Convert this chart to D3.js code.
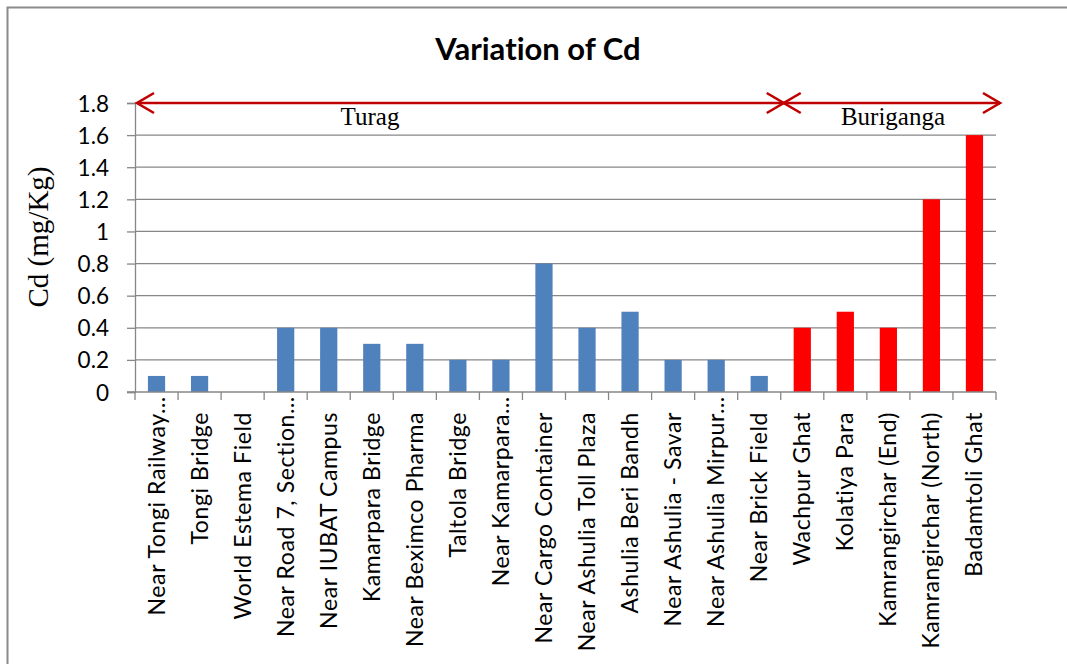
<!DOCTYPE html>
<html>
<head>
<meta charset="utf-8">
<script src="https://cdn.jsdelivr.net/npm/d3@7/dist/d3.min.js"></script>
<style>
  html, body { margin: 0; padding: 0; background: #ffffff; }
  svg { display: block; }
  text { font-variant-ligatures: none; }
</style>
</head>
<body>
<svg id="chart" width="1067" height="664"></svg>
<script>
// Sampling stations along the two rivers
const sites = [
  "Near Tongi Railway…", "Tongi Bridge", "World Estema Field", "Near Road 7, Section…",
  "Near IUBAT Campus", "Kamarpara Bridge", "Near Beximco Pharma", "Taltola Bridge",
  "Near Kamarpara…", "Near Cargo Container", "Near Ashulia Toll Plaza", "Ashulia Beri Bandh",
  "Near Ashulia - Savar", "Near Ashulia Mirpur…", "Near Brick Field", "Wachpur Ghat",
  "Kolatiya Para", "Kamrangirchar (End)", "Kamrangirchar (North)", "Badamtoli Ghat"
];
// Cd concentration (mg/Kg) per station
const cdValues = [0.1, 0.1, 0, 0.4, 0.4, 0.3, 0.3, 0.2, 0.2, 0.8, 0.4, 0.5, 0.2, 0.2, 0.1, 0.4, 0.5, 0.4, 1.2, 1.6];
// River each station belongs to
const riverOf = ["Turag","Turag","Turag","Turag","Turag","Turag","Turag","Turag","Turag","Turag",
                 "Turag","Turag","Turag","Turag","Turag","Buriganga","Buriganga","Buriganga","Buriganga","Buriganga"];
const rivers = ["Turag", "Buriganga"];
const yTicks = [0, 0.2, 0.4, 0.6, 0.8, 1, 1.2, 1.4, 1.6, 1.8];

const riverColor = { Turag: "#4f81bd", Buriganga: "#ff0000" };

const svg = d3.select("#chart");
const W = 1067, H = 664;
const plot = { left: 135, right: 996, top: 103, bottom: 392 };

svg.append("rect").attr("width", W).attr("height", H).attr("fill", "#ffffff");

// Chart frame
svg.append("rect")
  .attr("x", 7.5).attr("y", 7.5).attr("width", W + 10).attr("height", H + 10)
  .attr("fill", "none").attr("stroke", "#8a8a8a").attr("stroke-width", 2);

const x = d3.scaleBand().domain(sites).range([plot.left, plot.right]).padding(0);
const y = d3.scaleLinear().domain([0, 1.8]).range([plot.bottom, plot.top]);

// Gridlines
svg.append("g").selectAll("line").data(yTicks.filter(t => t > 0)).join("line")
  .attr("x1", plot.left).attr("x2", plot.right)
  .attr("y1", d => y(d)).attr("y2", d => y(d))
  .attr("stroke", "#878787").attr("stroke-width", 1.3);

// Y axis
const yAxis = svg.append("g")
  .attr("transform", `translate(${plot.left},0)`)
  .call(d3.axisLeft(y).tickValues(yTicks).tickSize(8).tickPadding(18).tickFormat(d3.format("")));
yAxis.select(".domain").attr("stroke", "#878787").attr("stroke-width", 1.3);
yAxis.selectAll(".tick line").attr("stroke", "#878787").attr("stroke-width", 1.3);
yAxis.selectAll(".tick text")
  .attr("font-family", "Lato, 'Open Sans', sans-serif").attr("font-size", 22.5)
  .attr("fill", "#000").attr("dy", "0.36em");

// Bars
const barW = x.bandwidth() / 2.5;
svg.append("g").selectAll("rect").data(sites).join("rect")
  .attr("x", (d) => x(d) + (x.bandwidth() - barW) / 2)
  .attr("width", barW)
  .attr("y", (d, i) => y(cdValues[i]))
  .attr("height", (d, i) => y(0) - y(cdValues[i]))
  .attr("fill", (d, i) => riverColor[riverOf[i]]);

// X axis
const xAxis = svg.append("g").attr("transform", `translate(0,${plot.bottom})`);
xAxis.append("line").attr("x1", plot.left - 8).attr("x2", plot.right)
  .attr("stroke", "#878787").attr("stroke-width", 1.3);
const bounds = sites.map(s => x(s)).concat([plot.right]);
xAxis.selectAll("line.tk").data(bounds).join("line").attr("class", "tk")
  .attr("x1", d => d).attr("x2", d => d).attr("y1", 0).attr("y2", 8)
  .attr("stroke", "#878787").attr("stroke-width", 1.3);

// Category labels, rotated
const labelFont = "Lato, 'Open Sans', sans-serif";
const labelSize = 23, labelSpacing = "0.6px";
const probe = svg.append("text").attr("font-family", labelFont).attr("font-size", labelSize)
  .attr("letter-spacing", labelSpacing).text("…");
const ellW = probe.node().getComputedTextLength();
probe.remove();

svg.append("g").selectAll("text").data(sites).join("text")
  .attr("transform", d => {
    const cx = x(d) + x.bandwidth() / 2 + 8;
    const ty = d.endsWith("…") ? 412 - ellW + 2 : 412;
    return `translate(${cx},${ty}) rotate(-90)`;
  })
  .attr("text-anchor", "end")
  .attr("font-family", labelFont).attr("font-size", labelSize)
  .attr("letter-spacing", labelSpacing)
  .attr("fill", "#000")
  .text(d => d);

// Y axis title
svg.append("text")
  .attr("transform", "translate(48,237) rotate(-90)")
  .attr("text-anchor", "middle")
  .attr("font-family", "'Liberation Serif', 'Times New Roman', serif")
  .attr("font-size", 29).attr("fill", "#000")
  .text("Cd (mg/Kg)");

// Chart title
svg.append("text")
  .attr("x", 538).attr("y", 60).attr("text-anchor", "middle")
  .attr("font-family", "Lato, 'Open Sans', sans-serif").attr("font-weight", "bold")
  .attr("font-size", 31).attr("fill", "#000")
  .text("Variation of Cd");

// River span arrows
const spans = rivers.map(r => {
  const idx = riverOf.map((v, i) => v === r ? i : -1).filter(i => i >= 0);
  return { river: r, x0: x(sites[idx[0]]), x1: x(sites[idx[idx.length - 1]]) + x.bandwidth() };
});
const arrowColor = "#c00000";
const ay = 103;
const aLen = 17, aHalf = 10;
const ag = svg.append("g").attr("stroke", arrowColor).attr("stroke-width", 2.6).attr("fill", "none");
spans.forEach((s, k) => {
  const a = (k === 0 ? s.x0 + 2 : s.x0 + 3);
  const b = (k === spans.length - 1 ? s.x1 + 4 : s.x1 + 3);
  ag.append("line").attr("x1", a).attr("x2", b).attr("y1", ay).attr("y2", ay);
  ag.append("path").attr("d", `M${a + aLen},${ay - aHalf}L${a},${ay}L${a + aLen},${ay + aHalf}`);
  ag.append("path").attr("d", `M${b - aLen},${ay - aHalf}L${b},${ay}L${b - aLen},${ay + aHalf}`);
});

// River names under the arrows
const riverLabelX = { Turag: 370, Buriganga: 893 };
svg.append("g").selectAll("text").data(spans).join("text")
  .attr("x", d => riverLabelX[d.river]).attr("y", 125)
  .attr("text-anchor", "middle")
  .attr("font-family", "'Liberation Serif', 'Times New Roman', serif")
  .attr("font-size", 25).attr("fill", "#000")
  .text(d => d.river);
</script>
</body>
</html>
